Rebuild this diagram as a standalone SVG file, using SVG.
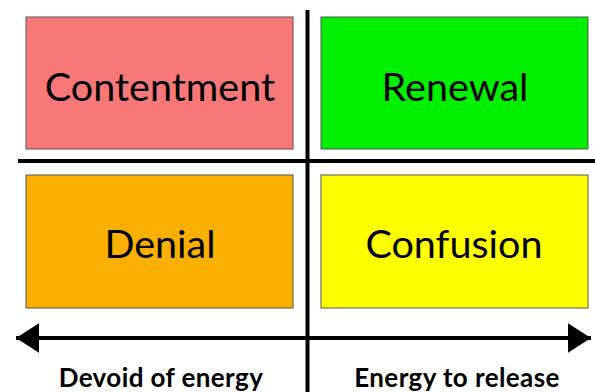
<svg xmlns="http://www.w3.org/2000/svg" width="595" height="392" viewBox="0 0 595 392">
  <style>
    .box { stroke: #555; stroke-width: 1; }
    .label { font-family: Lato, "Open Sans", "Liberation Sans", sans-serif; font-size: 39.5px; fill: #000; text-anchor: middle; }
    .axis { stroke: #000; stroke-width: 4; fill: none; }
    .axis-label { font-family: Lato, "Open Sans", "Liberation Sans", sans-serif; font-weight: bold; font-size: 26px; letter-spacing: 0.4px; fill: #000; text-anchor: middle; }
  </style>
  <defs>
    <marker id="arrowhead" markerWidth="5.8" markerHeight="7.5" refX="5.8" refY="3.75" orient="auto-start-reverse" markerUnits="strokeWidth">
      <path d="M0,0 L5.8,3.75 L0,7.5 Z" fill="#000"/>
    </marker>
  </defs>

  <rect width="595" height="392" fill="#fff"/>

  <g id="contentment">
    <rect class="box" x="26" y="17" width="267" height="132" fill="#F87878"/>
    <text class="label" x="160" y="101">Contentment</text>
  </g>
  <g id="renewal">
    <rect class="box" x="321" y="17" width="267" height="132" fill="#00F000"/>
    <text class="label" x="455" y="101">Renewal</text>
  </g>
  <g id="denial">
    <rect class="box" x="26" y="175" width="267" height="133" fill="#FBB000"/>
    <text class="label" x="160" y="258">Denial</text>
  </g>
  <g id="confusion">
    <rect class="box" x="321" y="175" width="267" height="133" fill="#FFFF00"/>
    <text class="label" x="454" y="258">Confusion</text>
  </g>

  <g id="connectors">
    <line class="axis" x1="307.5" y1="10" x2="307.5" y2="392"/>
    <line class="axis" x1="18" y1="161" x2="595" y2="161"/>
    <line class="axis" x1="16" y1="338" x2="591" y2="338" marker-start="url(#arrowhead)" marker-end="url(#arrowhead)"/>
  </g>

  <text class="axis-label" x="161" y="387">Devoid of energy</text>
  <text class="axis-label" x="457" y="387">Energy to release</text>
</svg>
